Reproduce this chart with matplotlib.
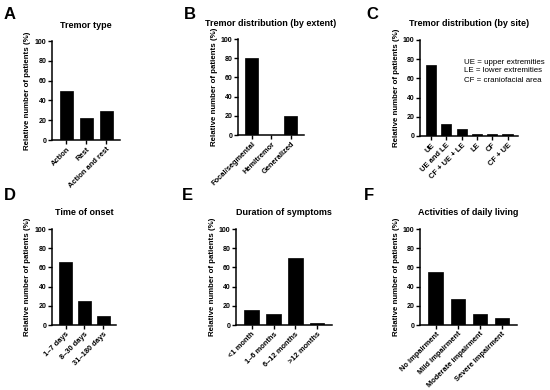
import matplotlib
matplotlib.use("Agg")
import matplotlib.pyplot as plt

plt.rcParams['font.family'] = ['Liberation Sans', 'DejaVu Sans']

W, H = 550, 390

# ---- data ----
a_cats = ["Action", "Rest", "Action and rest"]
a_vals = [49, 22, 29]
b_cats = ["Focal/segmental", "Hemitremor", "Generalized"]
b_vals = [80, 0, 20]
c_cats = ["UE", "UE and LE", "CF + UE + LE", "LE", "CF", "CF + UE"]
c_vals = [74, 13, 7, 2, 2, 2]
d_cats = ["1\u20137 days", "8\u201330 days", "31\u2013180 days"]
d_vals = [66, 25, 9]
e_cats = ["<1 month", "1\u20136 months", "6\u201312 months", ">12 months"]
e_vals = [16, 11, 70, 2]
f_cats = ["No impairment", "Mild impairment", "Moderate impairment", "Severe impairment"]
f_vals = [55, 27, 11, 7]
y_ticks = [0, 20, 40, 60, 80, 100]
ylabel = "Relative number of patients (%)"

panels = [
    # letter, title, cats, vals, (x0, x1, ytop, ybottom) in px, letter pos
    ("A", "Tremor type", a_cats, a_vals, (52, 120, 41, 140), (4, 7)),
    ("B", "Tremor distribution (by extent)", b_cats, b_vals, (238, 304, 39, 135), (184, 7)),
    ("C", "Tremor distribution (by site)", c_cats, c_vals, (420, 518, 40, 136), (366, 7)),
    ("D", "Time of onset", d_cats, d_vals, (52, 116, 229, 325), (4, 188)),
    ("E", "Duration of symptoms", e_cats, e_vals, (236, 332, 229, 325), (182, 188)),
    ("F", "Activities of daily living", f_cats, f_vals, (420, 517, 229, 325), (364, 188)),
]

fig = plt.figure(figsize=(W / 100, H / 100), dpi=100)

for letter, title, cats, vals, (x0, x1, yt, yb), (lx, ly) in panels:
    ax = fig.add_axes([x0 / W, 1 - yb / H, (x1 - x0) / W, (yb - yt) / H])
    n = len(cats)
    xs = list(range(n))
    ax.bar(xs, vals, width=0.67, color='black', edgecolor='black', linewidth=0.5)
    ax.set_xlim(-0.72, n - 1 + 0.68)
    ax.set_ylim(0, 100)
    ax.set_yticks(y_ticks)
    ax.set_xticks(xs)
    ax.set_xticklabels(cats, rotation=45, ha='right', rotation_mode='anchor',
                       fontsize=5.4, fontweight='bold')
    ax.tick_params(axis='y', labelsize=5.0, width=1.0, length=2.8, pad=1.2)
    ax.tick_params(axis='x', width=1.0, length=2.8, pad=1.2)
    for lab in ax.get_yticklabels():
        lab.set_fontweight('bold')
    for s in ['top', 'right']:
        ax.spines[s].set_visible(False)
    for s in ['left', 'bottom']:
        ax.spines[s].set_linewidth(1.1)
    ax.patch.set_alpha(0)
    # title
    fig.text(((x0 + x1) / 2) / W, 1 - (yt - 16) / H, title, ha='center', va='center',
             fontsize=6.5, fontweight='bold')
    # y label
    fig.text((x0 - 24) / W, 1 - ((yt + yb) / 2) / H, ylabel, rotation=90,
             ha='center', va='center', fontsize=5.7, fontweight='bold')
    # panel letter
    fig.text(lx / W, 1 - ly / H, letter, ha='left', va='top',
             fontsize=12, fontweight='bold')

# legend text in C
legend_lines = ["UE = upper extremities", "LE = lower extremities", "CF = craniofacial area"]
for i, t in enumerate(legend_lines):
    fig.text(464 / W, 1 - (62 + 9 * i) / H, t, ha='left', va='center', fontsize=5.7)

fig.savefig("out.png", dpi=100, facecolor='white')
